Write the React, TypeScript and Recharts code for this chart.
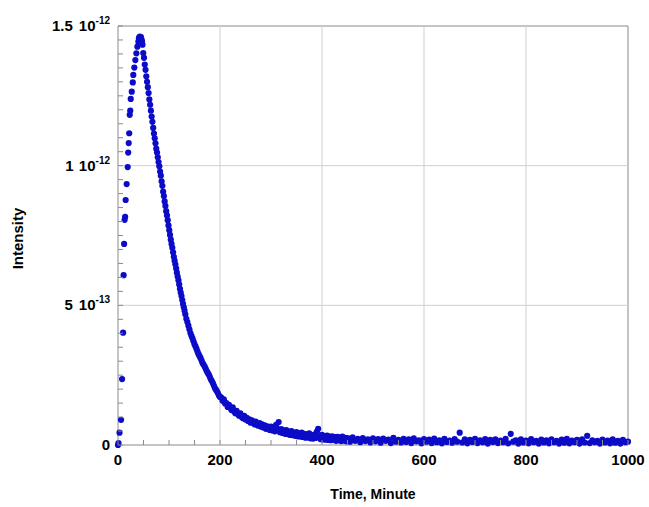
import React from 'react';
import {
  ScatterChart,
  Scatter,
  XAxis,
  YAxis,
  ReferenceLine,
  ReferenceArea,
  Label,
} from 'recharts';

// ---------- axis / tick definitions ----------
const xMajorTicks = [0, 200, 400, 600, 800, 1000];
const xMinorTicks = [0, 50, 100, 150, 200, 250, 300, 350, 400, 450, 500, 550, 600, 650, 700, 750, 800, 850, 900, 950, 1000];
const xGridValues = [200, 400, 600, 800];

// intensity in units of 1e-13
const yMajorTicks = [0, 5, 10, 15];
const yMinorTicks = [0, 0.5, 1, 1.5, 2, 2.5, 3, 3.5, 4, 4.5, 5, 5.5, 6, 6.5, 7, 7.5, 8, 8.5, 9, 9.5, 10, 10.5, 11, 11.5, 12, 12.5, 13, 13.5, 14, 14.5, 15];
const yGridValues = [5, 10];
const yTickMantissa = ['0', '5', '1', '1.5'];
const yTickPower = ['', '10', '10', '10'];
const yTickExp = ['', '-13', '-12', '-12'];

const xTitle = 'Time, Minute';
const yTitle = 'Intensity';

// ---------- data (minutes, intensity x 1e-13) ----------
const earlyMinutes = [
  0, 1, 3, 6, 8, 10, 11, 12, 13, 14, 15, 17, 19, 20, 21, 22, 23, 24, 25, 27, 29, 30, 32, 34, 36, 38, 40, 41,
  42, 43, 44, 45, 46, 47, 48,
  49.5, 51, 52.5, 54, 55.5, 57, 58.5, 60, 61.5, 63, 64.5, 66, 67.5, 69, 70.5, 72, 73.5, 75, 76.5, 78, 79.5,
  81, 82.5, 84, 85.5, 87, 88.5, 90, 91.5, 93, 94.5, 96, 97.5, 99, 100.5, 102, 103.5, 105, 106.5, 108, 109.5,
  111, 112.5, 114, 115.5, 117, 118.5, 120, 121.5, 123, 124.5, 126, 127.5, 129, 130.5,
  132, 134, 136, 138, 140, 142, 144, 146, 148, 150, 152, 154, 156, 158, 160, 162, 164, 166, 168, 170,
  172, 174, 176, 178, 180, 182, 184, 186, 188, 190, 192, 194, 196, 198, 200,
];
const earlyIntensity = [
  0.0, 0.07, 0.44, 0.9, 2.36, 4.02, 6.08, 7.2, 8.06, 8.17, 8.77, 9.34, 9.95, 10.47, 10.81, 11.16, 11.82, 11.97, 12.39, 12.65, 12.98, 13.25, 13.51, 13.78, 14.02, 14.26, 14.44, 14.56,
  14.6, 14.62, 14.58, 14.6, 14.52, 14.45, 14.33,
  14.03, 13.86, 13.62, 13.43, 13.2, 13.0, 12.81, 12.6, 12.37, 12.18, 11.97, 11.76, 11.57, 11.35, 11.15, 10.98, 10.8, 10.61, 10.47, 10.3, 10.13,
  9.98, 9.79, 9.64, 9.44, 9.28, 9.07, 8.91, 8.72, 8.56, 8.37, 8.22, 8.05, 7.86, 7.69, 7.52, 7.35, 7.2, 7.06, 6.9, 6.74,
  6.6, 6.47, 6.32, 6.17, 6.03, 5.9, 5.75, 5.59, 5.46, 5.33, 5.19, 5.05, 4.93, 4.81,
  4.68, 4.52, 4.4, 4.27, 4.14, 4.01, 3.91, 3.82, 3.71, 3.61, 3.53, 3.44, 3.34, 3.25, 3.18, 3.11, 3.02, 2.93, 2.87, 2.81,
  2.73, 2.65, 2.58, 2.52, 2.44, 2.35, 2.29, 2.22, 2.13, 2.04, 1.98, 1.92, 1.85, 1.77, 1.72,
];

const lateMinutes = [
  202.5, 205, 207.5, 210, 212.5, 215, 217.5, 220, 222.5, 225, 227.5, 230, 232.5, 235, 237.5, 240, 242.5, 245, 247.5, 250,
  252.5, 255, 257.5, 260, 262.5, 265, 267.5, 270, 272.5, 275, 277.5, 280, 282.5, 285, 287.5, 290, 292.5, 295, 297.5, 300,
  302.5, 305, 307.5, 310, 312.5, 315, 317.5, 320, 322.5, 325, 327.5, 330, 332.5, 335, 337.5, 340, 342.5, 345, 347.5, 350,
  352.5, 355, 357.5, 360, 362.5, 365, 367.5, 370, 372.5, 375, 377.5, 380, 382.5, 385, 387.5, 390, 392.5, 395, 397.5, 400,
  402.5, 405, 407.5, 410, 412.5, 415, 417.5, 420, 422.5, 425, 427.5, 430, 432.5, 435, 437.5, 440, 442.5, 445, 447.5, 450,
  455, 460, 465, 470, 475, 480, 485, 490, 495, 500, 505, 510, 515, 520, 525, 530, 535, 540, 545, 550,
  555, 560, 565, 570, 575, 580, 585, 590, 595, 600, 605, 610, 615, 620, 625, 630, 635, 640, 645, 650,
  655, 660, 665, 670, 675, 680, 685, 690, 695, 700, 705, 710, 715, 720, 725, 730, 735, 740, 745, 750,
  755, 760, 765, 770, 775, 780, 785, 790, 795, 800, 805, 810, 815, 820, 825, 830, 835, 840, 845, 850,
  855, 860, 865, 870, 875, 880, 885, 890, 895, 900, 905, 910, 915, 920, 925, 930, 935, 940, 945, 950,
  955, 960, 965, 970, 975, 980, 985, 990, 995, 1000,
];
const lateIntensity = [
  1.7, 1.58, 1.63, 1.49, 1.5, 1.36, 1.44, 1.33, 1.25, 1.35, 1.21, 1.14, 1.22, 1.1, 1.05, 1.13, 1.0, 0.96, 1.04, 0.91,
  0.97, 0.86, 0.92, 0.8, 0.88, 0.83, 0.74, 0.84, 0.72, 0.69, 0.78, 0.66, 0.74, 0.63, 0.7, 0.58, 0.67, 0.62, 0.54, 0.66,
  0.52, 0.6, 0.49, 0.72, 0.58, 0.82, 0.46, 0.57, 0.43, 0.52, 0.4, 0.53, 0.39, 0.48, 0.36, 0.5, 0.35, 0.44, 0.33, 0.46,
  0.31, 0.41, 0.3, 0.44, 0.29, 0.4, 0.26, 0.38, 0.27, 0.42, 0.24, 0.35, 0.23, 0.37, 0.25, 0.48, 0.58, 0.33, 0.21, 0.36,
  0.2, 0.32, 0.19, 0.34, 0.18, 0.3, 0.17, 0.31, 0.19, 0.28, 0.15, 0.29, 0.17, 0.27, 0.14, 0.3, 0.16, 0.26, 0.13, 0.25,
  0.12, 0.27, 0.15, 0.22, 0.1, 0.25, 0.14, 0.2, 0.09, 0.24, 0.13, 0.21, 0.08, 0.23, 0.15, 0.19, 0.07, 0.26, 0.12, 0.18,
  0.09, 0.22, 0.11, 0.2, 0.07, 0.24, 0.13, 0.17, 0.06, 0.21, 0.12, 0.19, 0.07, 0.23, 0.1, 0.17, 0.06, 0.22, 0.11, 0.16,
  0.08, 0.21, 0.12, 0.44, 0.09, 0.2, 0.06, 0.18, 0.11, 0.22, 0.07, 0.17, 0.1, 0.21, 0.05, 0.18, 0.11, 0.2, 0.07, 0.16,
  0.1, 0.22, 0.06, 0.4, 0.12, 0.17, 0.05, 0.2, 0.09, 0.16, 0.06, 0.21, 0.1, 0.15, 0.05, 0.19, 0.09, 0.17, 0.06, 0.2,
  0.1, 0.15, 0.05, 0.19, 0.08, 0.22, 0.06, 0.16, 0.1, 0.18, 0.05, 0.2, 0.09, 0.33, 0.07, 0.17, 0.1, 0.15, 0.05, 0.19,
  0.09, 0.16, 0.06, 0.2, 0.08, 0.15, 0.05, 0.18, 0.1, 0.12,
];

const points = [
  ...earlyMinutes.map((t, i) => ({ t, v: earlyIntensity[i] })),
  ...lateMinutes.map((t, i) => ({ t, v: lateIntensity[i] })),
];

// ---------- styles ----------
const FONT = '"Liberation Sans", Arial, Helvetica, sans-serif';
const DOT_COLOR = '#0c0cc8';
const FRAME_COLOR = '#8a8a8a';
const GRID_COLOR = '#cfcfcf';
const TICK_LEN = 5;

const BottomTick = (props: any) => {
  const { x, y, payload } = props;
  const v = payload.value;
  const major = xMajorTicks.includes(v);
  return (
    <g>
      <line x1={x} y1={y} x2={x} y2={y - TICK_LEN} stroke={FRAME_COLOR} />
      {major && (
        <text x={x} y={y + 20} textAnchor="middle" fontFamily={FONT} fontWeight="bold" fontSize={15} fill="#000">
          {v}
        </text>
      )}
    </g>
  );
};

const TopTick = (props: any) => {
  const { x, y } = props;
  return <line x1={x} y1={y} x2={x} y2={y + TICK_LEN} stroke={FRAME_COLOR} />;
};

const LeftTick = (props: any) => {
  const { x, y, payload } = props;
  const idx = yMajorTicks.indexOf(payload.value);
  return (
    <g>
      <line x1={x} y1={y} x2={x + TICK_LEN} y2={y} stroke={FRAME_COLOR} />
      {idx >= 0 && (
        <text x={x - 8} y={y + 5} textAnchor="end" fontFamily={FONT} fontWeight="bold" fontSize={15} fill="#000">
          <tspan>{yTickMantissa[idx]}</tspan>
          {yTickPower[idx] && <tspan dx={6}>{yTickPower[idx]}</tspan>}
          {yTickExp[idx] && (
            <tspan dy={-7} fontSize={10}>
              {yTickExp[idx]}
            </tspan>
          )}
        </text>
      )}
    </g>
  );
};

const RightTick = (props: any) => {
  const { x, y } = props;
  return <line x1={x} y1={y} x2={x - TICK_LEN} y2={y} stroke={FRAME_COLOR} />;
};

const XTitle = (props: any) => {
  const vb = props.viewBox;
  return (
    <text x={vb.x + vb.width / 2} y={vb.y + 54} textAnchor="middle" fontFamily={FONT} fontWeight="bold" fontSize={14} fill="#000">
      {xTitle}
    </text>
  );
};

const YTitle = (props: any) => {
  const vb = props.viewBox;
  const cx = vb.x + 23;
  const cy = vb.y + vb.height / 2 + 3;
  return (
    <text
      x={cx}
      y={cy}
      transform={`rotate(-90 ${cx} ${cy})`}
      textAnchor="middle"
      fontFamily={FONT}
      fontWeight="bold"
      fontSize={15}
      fill="#000"
    >
      {yTitle}
    </text>
  );
};

const Dot = (props: any) => {
  const { cx, cy } = props;
  if (cx == null || cy == null) return null;
  return <circle cx={cx} cy={cy} r={3.1} fill={DOT_COLOR} />;
};

export default function App() {
  return (
    <div style={{ position: 'absolute', left: 0, top: 0, width: 649, height: 507, background: '#fff' }}>
      <ScatterChart width={649} height={507} margin={{ top: 25, right: 20, bottom: 0, left: 0 }}>
        <XAxis
          xAxisId="b"
          dataKey="t"
          type="number"
          domain={[0, 1000]}
          ticks={xMinorTicks}
          interval={0}
          tickSize={0}
          tickMargin={0}
          tickLine={false}
          axisLine={false}
          tick={<BottomTick />}
          height={62}
        >
          <Label content={<XTitle />} />
        </XAxis>
        <XAxis
          xAxisId="top"
          orientation="top"
          type="number"
          domain={[0, 1000]}
          ticks={xMinorTicks}
          interval={0}
          tickSize={0}
          tickMargin={0}
          tickLine={false}
          axisLine={false}
          tick={<TopTick />}
          height={1}
        />
        <YAxis
          yAxisId="l"
          dataKey="v"
          type="number"
          domain={[0, 15]}
          ticks={yMinorTicks}
          interval={0}
          tickSize={0}
          tickMargin={0}
          tickLine={false}
          axisLine={false}
          tick={<LeftTick />}
          width={118}
        >
          <Label content={<YTitle />} />
        </YAxis>
        <YAxis
          yAxisId="r"
          orientation="right"
          type="number"
          domain={[0, 15]}
          ticks={yMinorTicks}
          interval={0}
          tickSize={0}
          tickMargin={0}
          tickLine={false}
          axisLine={false}
          tick={<RightTick />}
          width={1}
        />
        {xGridValues.map((v) => (
          <ReferenceLine key={'gx' + v} xAxisId="b" yAxisId="l" x={v} stroke={GRID_COLOR} strokeWidth={1} />
        ))}
        {yGridValues.map((v) => (
          <ReferenceLine key={'gy' + v} xAxisId="b" yAxisId="l" y={v} stroke={GRID_COLOR} strokeWidth={1} />
        ))}
        <ReferenceArea
          xAxisId="b"
          yAxisId="l"
          x1={0}
          x2={1000}
          y1={0}
          y2={15}
          fill="none"
          fillOpacity={0}
          stroke={FRAME_COLOR}
          strokeWidth={1}
        />
        <Scatter xAxisId="b" yAxisId="l" data={points} shape={<Dot />} isAnimationActive={false} />
      </ScatterChart>
    </div>
  );
}
